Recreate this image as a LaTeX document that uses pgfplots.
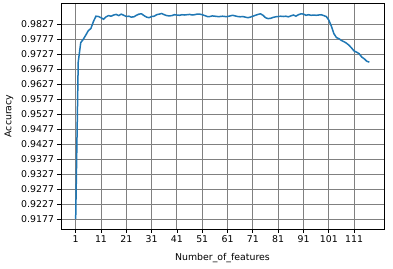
\documentclass[border=0pt]{standalone}
\usepackage{pgfplots}
\pgfplotsset{compat=1.18}
\usepackage{fontspec}
\setmainfont{DejaVu Sans}
\definecolor{mplblue}{RGB}{31,119,180}
\begin{document}
\begin{tikzpicture}
\path[use as bounding box] (-61bp,-40bp) rectangle (332bp,229bp);
\begin{axis}[
  scale only axis,
  width=323bp, height=226bp,
  xmin=-4.8, xmax=122.8,
  ymin=0.9144, ymax=0.9897,
  xtick={1,11,21,31,41,51,61,71,81,91,101,111},
  ytick={0.9177,0.9227,0.9277,0.9327,0.9377,0.9427,0.9477,0.9527,0.9577,0.9627,0.9677,0.9727,0.9777,0.9827},
  yticklabels={0.9177,0.9227,0.9277,0.9327,0.9377,0.9427,0.9477,0.9527,0.9577,0.9627,0.9677,0.9727,0.9777,0.9827},
  /pgf/number format/assume math mode=true,
  tick label style={font=\fontsize{9.4}{11}\selectfont},
  label style={font=\fontsize{9.4}{11}\selectfont},
  xlabel={Number\_of\_features},
  xlabel style={yshift=-3bp},
  ylabel={Accuracy},
  ylabel style={yshift=1bp},
  grid=major,
  major grid style={draw=black!50, line width=0.9bp},
  axis line style={line width=0.9bp},
  tick align=outside,
  tick pos=left,
  major tick length=3.5bp,
  tick style={line width=0.8bp, black},
]
\addplot[mplblue, line width=1.5bp] coordinates {
(1,0.9177)(2,0.9700)(3,0.9765)(4,0.9776)(5,0.9790)(6,0.9805)(7,0.9812)(8,0.9835)(9,0.9853)(10,0.9852)
(11,0.9848)(12,0.9843)(13,0.9851)(14,0.9855)(15,0.9853)(16,0.9857)(17,0.9859)(18,0.9855)(19,0.9860)(20,0.9856)
(21,0.9852)(22,0.9853)(23,0.9850)(24,0.9851)(25,0.9856)(26,0.9860)(27,0.9861)(28,0.9855)(29,0.9850)(30,0.9848)
(31,0.9852)(32,0.9853)(33,0.9858)(34,0.9860)(35,0.9862)(36,0.9858)(37,0.9855)(38,0.9854)(39,0.9855)(40,0.9858)
(41,0.9857)(42,0.9856)(43,0.9858)(44,0.9857)(45,0.9858)(46,0.9859)(47,0.9857)(48,0.9858)(49,0.9860)(50,0.9860)
(51,0.9858)(52,0.9855)(53,0.9852)(54,0.9852)(55,0.9854)(56,0.9853)(57,0.9852)(58,0.9852)(59,0.9853)(60,0.9852)
(61,0.9852)(62,0.9854)(63,0.9856)(64,0.9854)(65,0.9852)(66,0.9851)(67,0.9852)(68,0.9850)(69,0.9848)(70,0.9850)
(71,0.9853)(72,0.9856)(73,0.9859)(74,0.9861)(75,0.9856)(76,0.9848)(77,0.9845)(78,0.9846)(79,0.9849)(80,0.9851)
(81,0.9852)(82,0.9853)(83,0.9852)(84,0.9853)(85,0.9851)(86,0.9854)(87,0.9857)(88,0.9853)(89,0.9858)(90,0.9861)
(91,0.9860)(92,0.9856)(93,0.9858)(94,0.9856)(95,0.9857)(96,0.9856)(97,0.9857)(98,0.9858)(99,0.9855)(100,0.9852)
(101,0.9840)(102,0.9820)(103,0.9795)(104,0.9782)(105,0.9778)(106,0.9772)(107,0.9768)(108,0.9763)(109,0.9756)(110,0.9747)
(111,0.9737)(112,0.9733)(113,0.9728)(114,0.9717)(115,0.9711)(116,0.9703)(117,0.9700)
};
\end{axis}
\end{tikzpicture}
\end{document}
